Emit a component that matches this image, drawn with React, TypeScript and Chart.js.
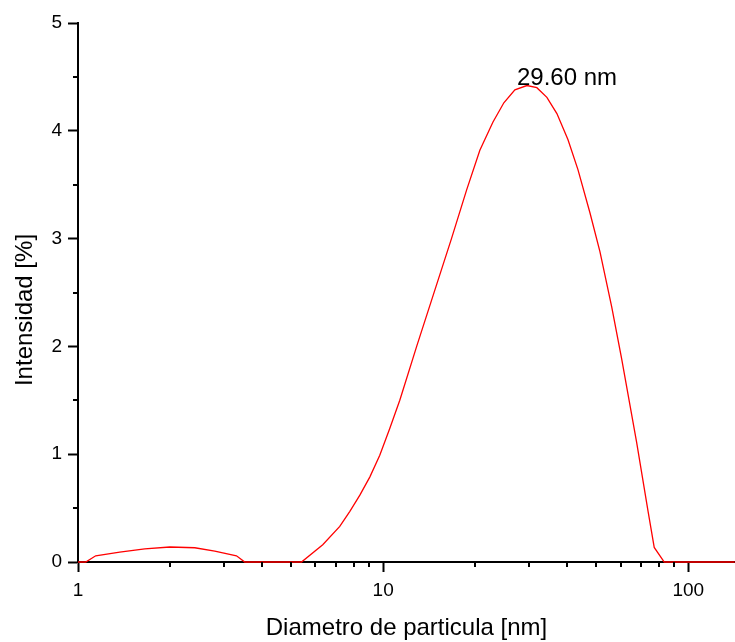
import React, { useEffect, useRef } from "react";
import { Chart, registerables } from "chart.js";

Chart.register(...registerables);

// Particle diameter [nm]
const diameters = [
  1.0, 1.06, 1.143, 1.37, 1.655, 2.0, 2.414, 2.807, 3.306, 3.521, 5.4, 6.34,
  7.21, 7.78, 8.39, 9.05, 9.75, 10.52, 11.34, 12.88, 16.75, 18.77, 20.75,
  22.89, 24.87, 27.03, 29.6, 31.9, 34.41, 37.11, 40.33, 43.5, 47.62, 51.35,
  56.1, 60.46, 67.74, 73.94, 77.35, 83.44, 142,
];
// Intensity [%]
const intensity = [
  0, 0, 0.058, 0.092, 0.122, 0.139, 0.132, 0.1, 0.058, 0, 0, 0.16, 0.33, 0.47,
  0.62, 0.79, 0.99, 1.24, 1.5, 2.0, 3.0, 3.45, 3.82, 4.08, 4.26, 4.38, 4.42,
  4.4, 4.31, 4.16, 3.92, 3.64, 3.24, 2.88, 2.37, 1.89, 1.11, 0.46, 0.135, 0, 0,
];

const xMajorTicks = [1, 10, 100];
const xMinorTicks = [2, 3, 4, 5, 6, 7, 8, 9, 20, 30, 40, 50, 60, 70, 80, 90];
const yMajorTicks = [0, 1, 2, 3, 4, 5];
const yMinorTicks = [0.5, 1.5, 2.5, 3.5, 4.5];

const peakLabel = "29.60 nm";
const xTitle = "Diametro de particula [nm]";
const yTitle = "Intensidad [%]";

const FONT = "'Liberation Sans', Arial, sans-serif";

const decorPlugin = {
  id: "decor",
  afterDraw(chart: any) {
    const { ctx, chartArea, scales } = chart;
    const xs = scales.x;
    const ys = scales.y;
    ctx.save();
    ctx.strokeStyle = "#000";
    ctx.lineWidth = 2;
    // minor ticks x
    xMinorTicks.forEach((v) => {
      const px = Math.round(xs.getPixelForValue(v));
      ctx.beginPath();
      ctx.moveTo(px, chartArea.bottom);
      ctx.lineTo(px, chartArea.bottom + 5);
      ctx.stroke();
    });
    // minor ticks y
    yMinorTicks.forEach((v) => {
      const py = Math.round(ys.getPixelForValue(v));
      ctx.beginPath();
      ctx.moveTo(chartArea.left, py);
      ctx.lineTo(chartArea.left - 5, py);
      ctx.stroke();
    });
    // titles
    ctx.fillStyle = "#000";
    ctx.font = `24px ${FONT}`;
    ctx.textAlign = "center";
    ctx.textBaseline = "middle";
    ctx.fillText(xTitle, (chartArea.left + chartArea.right) / 2, 628);
    ctx.save();
    ctx.translate(25, 310);
    ctx.rotate(-Math.PI / 2);
    ctx.fillText(yTitle, 0, 0);
    ctx.restore();
    // peak label
    let mi = 0;
    intensity.forEach((v, i) => {
      if (v > intensity[mi]) mi = i;
    });
    const ppx = xs.getPixelForValue(diameters[mi]);
    const ppy = ys.getPixelForValue(intensity[mi]);
    ctx.textAlign = "left";
    ctx.textBaseline = "alphabetic";
    ctx.font = `24px ${FONT}`;
    ctx.fillText(peakLabel, ppx - 10, ppy - 0.5);
    ctx.restore();
  },
};

export default function App() {
  const ref = useRef<HTMLCanvasElement | null>(null);
  useEffect(() => {
    if (!ref.current) return;
    const chart = new Chart(ref.current, {
      type: "line",
      data: {
        datasets: [
          {
            data: diameters.map((d, i) => ({ x: d, y: intensity[i] })),
            borderColor: "#ff0000",
            borderWidth: 1.3,
            pointRadius: 0,
            tension: 0,
            fill: false,
            clip: 5,
          } as any,
        ],
      },
      options: {
        responsive: false,
        animation: false,
        layout: { padding: { top: 23, right: 0, bottom: 0, left: 0 } },
        plugins: {
          legend: { display: false },
          tooltip: { enabled: false },
          title: { display: false },
        },
        scales: {
          x: {
            type: "logarithmic",
            min: 1,
            max: 142.3,
            afterBuildTicks: (s: any) => {
              s.ticks = xMajorTicks.map((v) => ({ value: v }));
            },
            afterFit: (s: any) => {
              s.height = 80;
            },
            ticks: {
              autoSkip: false,
              maxRotation: 0,
              padding: 7,
              color: "#000",
              font: { family: FONT, size: 19 },
              callback: (v: any) => String(v),
            },
            grid: {
              drawOnChartArea: false,
              drawTicks: true,
              tickLength: 10,
              tickWidth: 2,
              tickColor: "#000",
            },
            border: { display: true, color: "#000", width: 2 },
          },
          y: {
            type: "linear",
            min: 0,
            max: 5,
            afterBuildTicks: (s: any) => {
              s.ticks = yMajorTicks.map((v) => ({ value: v }));
            },
            afterFit: (s: any) => {
              s.width = 78;
            },
            ticks: {
              autoSkip: false,
              padding: 6,
              color: "#000",
              font: { family: FONT, size: 19 },
              callback: (v: any) => String(v),
            },
            grid: {
              drawOnChartArea: false,
              drawTicks: true,
              tickLength: 10,
              tickWidth: 2,
              tickColor: "#000",
            },
            border: { display: true, color: "#000", width: 2 },
          },
        },
      },
      plugins: [decorPlugin],
    });
    return () => chart.destroy();
  }, []);
  return (
    <div style={{ position: "absolute", left: 0, top: 0, width: 735, height: 642, background: "#fff" }}>
      <canvas ref={ref} width={735} height={642} style={{ display: "block" }} />
    </div>
  );
}
